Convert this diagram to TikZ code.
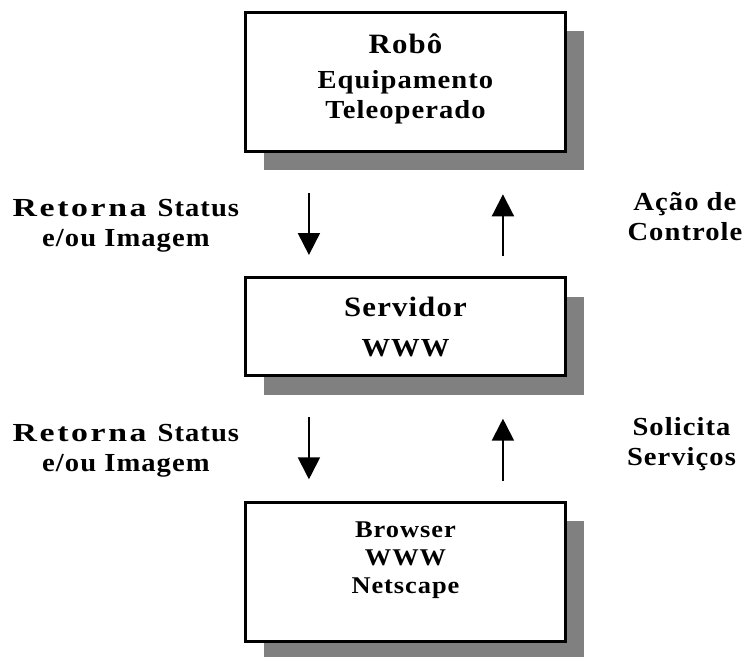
\documentclass[tikz,border=0pt]{standalone}
\usepackage{fontspec}
\setmainfont{Liberation Serif}[FakeStretch=1.1,LetterSpace=4]
\usepackage{tikz}
\usetikzlibrary{arrows.meta,positioning,shadows,calc}
\newcommand{\largo}[1]{{\addfontfeature{FakeStretch=1.3,LetterSpace=10}#1}}
\tikzset{
  tele/box/.style={draw, line width=2.25pt, fill=white, minimum width=240pt, align=center,
    drop shadow={shadow xshift=14pt, shadow yshift=-14pt, opacity=1, fill=black!50}},
  tele/label/.style={align=center, font=\fontsize{19.5}{22.5}\selectfont\bfseries},
  tele/arr/.style={-{Triangle[length=16.5pt,width=16.5pt]}, line width=1.5pt}
}

\begin{document}
\begin{tikzpicture}[
  node distance=92.5pt,
  tall/.style={tele/box, minimum height=104.25pt},
  short/.style={tele/box, minimum height=73.5pt},
  title/.style={font=\fontsize{21}{26}\selectfont\bfseries}
]
\useasboundingbox (0,0) rectangle (557.25pt,-492.75pt);

\node[tall, font=\fontsize{19.5}{22.5}\selectfont\bfseries, text depth=9.3pt] (robo) at (304.1pt,-61.5pt)
  {{\fontsize{21}{26}\selectfont Robô}\\[3.75pt]Equipamento\\Teleoperado};
\node[short, title, below=of robo] (servidor)
  {Servidor\\[3.75pt]{\fontsize{19.5}{22.5}\selectfont WWW}};
\node[tall, font=\fontsize{18}{21}\selectfont\bfseries, text depth=21pt, below=of servidor] (browser)
  {Browser\\WWW\\Netscape};

\coordinate (desce1) at ([xshift=-72.4pt,yshift=-30pt]robo.south);
\coordinate (desce1f) at ([xshift=-72.4pt,yshift=16pt]servidor.north);
\coordinate (sobe1) at ([xshift=73.1pt,yshift=15pt]servidor.north);
\coordinate (sobe1f) at ([xshift=73.1pt,yshift=-31pt]robo.south);
\coordinate (desce2) at ([xshift=-72.4pt,yshift=-30pt]servidor.south);
\coordinate (desce2f) at ([xshift=-72.4pt,yshift=16pt]browser.north);
\coordinate (sobe2) at ([xshift=73.1pt,yshift=15pt]browser.north);
\coordinate (sobe2f) at ([xshift=73.1pt,yshift=-31pt]servidor.south);

\draw[tele/arr] (desce1) -- (desce1f);
\draw[tele/arr] (sobe1) -- (sobe1f);
\draw[tele/arr] (desce2) -- (desce2f);
\draw[tele/arr] (sobe2) -- (sobe2f);

\node[tele/label] (retorna1) at ($(desce1)!.5!(desce1f)+(-137.25pt,-1.5pt)$) {\largo{Retorna }Status\\e/ou Imagem};
\node[tele/label] (acao) at ($(sobe1)!.5!(sobe1f)+(136.5pt,6.7pt)$) {Ação de\\Controle};
\node[tele/label] (retorna2) at ($(desce2)!.5!(desce2f)+(-137.25pt,-1.5pt)$) {\largo{Retorna }Status\\e/ou Imagem};
\node[tele/label] (solicita) at ($(sobe2)!.5!(sobe2f)+(133.9pt,4.5pt)$) {Solicita\\Serviços};
\end{tikzpicture}
\end{document}
